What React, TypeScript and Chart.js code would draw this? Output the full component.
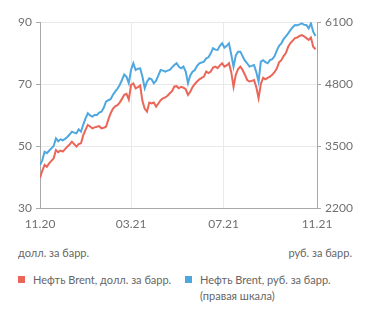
import React, { useEffect, useRef } from "react";
import { Chart, registerables } from "chart.js";

Chart.register(...registerables);

// day offsets from 01.11.2020
const days = [
  0, 3, 6, 9, 12, 15, 18, 21, 24, 27, 30, 33, 36, 39, 42, 45, 48, 51, 54, 57,
  60, 63, 66, 69, 72, 75, 78, 81, 84, 87, 90, 93, 96, 99, 102, 105, 108, 111, 114, 117,
  120, 123, 126, 129, 132, 135, 138, 141, 144, 147, 150, 153, 156, 159, 162, 165, 168, 171, 174, 177,
  180, 183, 186, 189, 192, 195, 198, 201, 204, 207, 210, 213, 216, 219, 222, 225, 228, 231, 234, 237,
  240, 243, 246, 249, 252, 255, 258, 261, 264, 267, 270, 273, 276, 279, 282, 285, 288, 291, 294, 297,
  300, 303, 306, 309, 312, 315, 318, 321, 324, 327, 330, 333, 336, 339, 342, 345, 348, 351, 354, 357,
  360, 363,
];

const brentUsd = [
  39.7, 42.0, 43.9, 43.3, 44.4, 45.2, 46.0, 48.7, 48.0, 48.5, 48.2, 49.0, 49.8, 50.5, 51.4, 50.6, 49.8, 50.6, 50.9, 53.5,
  55.2, 56.8, 56.3, 55.7, 56.0, 56.2, 56.4, 55.7, 55.9, 56.2, 58.5, 60.5, 62.0, 62.8, 63.2, 64.0, 65.2, 66.5, 66.8, 65.0,
  69.7, 70.2, 68.6, 69.0, 69.5, 64.5, 62.0, 61.1, 64.0, 63.7, 64.0, 62.7, 63.7, 64.8, 65.4, 65.7, 66.2, 67.0, 67.7, 69.2,
  69.3, 68.6, 69.1, 68.8, 68.3, 66.5, 67.5, 69.0, 70.0, 70.8, 71.5, 72.0, 72.4, 74.0, 73.5, 74.0, 75.3, 75.6, 75.1, 76.0,
  76.7, 75.6, 76.0, 76.7, 73.8, 69.1, 73.0, 74.8, 75.6, 74.5, 73.0, 71.3, 70.8, 71.0, 71.3, 69.0, 65.4, 70.0, 72.0, 71.5,
  72.0, 72.4, 73.0, 73.8, 75.0, 77.0, 77.7, 79.0, 80.0, 82.0, 83.2, 84.0, 84.8, 85.0, 85.5, 85.8, 85.4, 84.8, 84.2, 85.0,
  82.0, 81.2,
];

const brentRub = [
  3100, 3200, 3380, 3350, 3400, 3450, 3500, 3661, 3600, 3640, 3620, 3650, 3690, 3740, 3800, 3780, 3766, 3850, 3800, 3950,
  4080, 4186, 4140, 4116, 4150, 4150, 4200, 4220, 4300, 4429, 4460, 4480, 4570, 4640, 4700, 4779, 4884, 5000, 4950, 4815,
  5100, 5234, 5094, 5120, 5129, 4950, 4710, 4849, 4919, 4900, 4815, 4870, 4980, 5094, 5080, 5059, 5080, 5094, 5150, 5199,
  5234, 5160, 5129, 5164, 5059, 4815, 4980, 5059, 5094, 5180, 5234, 5250, 5268, 5338, 5360, 5443, 5550, 5520, 5513, 5600,
  5653, 5560, 5600, 5653, 5420, 5163, 5400, 5478, 5478, 5380, 5290, 5234, 5164, 5180, 5199, 5050, 4849, 5268, 5300, 5260,
  5234, 5300, 5320, 5380, 5500, 5600, 5653, 5740, 5800, 5862, 5930, 5990, 6037, 6030, 6050, 6073, 6040, 6037, 5967, 6073,
  5897, 5806,
];

const xTickDays = [0, 120, 242, 365];
const xTickLabels = ["11.20", "03.21", "07.21", "11.21"];
const leftTicks = [30, 50, 70, 90];
const rightTicks = [2200, 3500, 4800, 6100];

const RED = "#EB6659";
const BLUE = "#4FA7E0";
const FONT = "Lato";
const TICK_COLOR = "#707070";

export default function App() {
  const ref = useRef<HTMLCanvasElement | null>(null);

  useEffect(() => {
    if (!ref.current) return;
    const chart = new Chart(ref.current, {
      type: "line",
      data: {
        datasets: [
          {
            label: "Нефть Brent, долл. за барр.",
            data: days.map((d, i) => ({ x: d, y: brentUsd[i] })),
            borderColor: RED,
            borderWidth: 2,
            pointRadius: 0,
            tension: 0,
            yAxisID: "y",
          },
          {
            label: "Нефть Brent, руб. за барр. (правая шкала)",
            data: days.map((d, i) => ({ x: d, y: brentRub[i] })),
            borderColor: BLUE,
            borderWidth: 2,
            pointRadius: 0,
            tension: 0,
            yAxisID: "y1",
          },
        ],
      },
      options: {
        responsive: false,
        animation: false,
        layout: { padding: { top: 22, left: 0, right: 0, bottom: 0 } },
        plugins: { legend: { display: false }, tooltip: { enabled: false } },
        scales: {
          x: {
            type: "linear",
            min: 0,
            max: 365,
            afterBuildTicks: (s: any) => {
              s.ticks = xTickDays.map((v) => ({ value: v }));
            },
            afterFit: (s: any) => {
              s.height = 32;
            },
            ticks: {
              callback: (v: any) => {
                const i = xTickDays.indexOf(Number(v));
                return i >= 0 ? xTickLabels[i] : "";
              },
              color: TICK_COLOR,
              font: { family: FONT, size: 12 },
              padding: 9,
              maxRotation: 0,
              autoSkip: false,
            },
            grid: { color: "#e9e9e9", drawTicks: false, lineWidth: 1 },
            border: { color: "#a8a8a8", width: 1 },
          },
          y: {
            position: "left",
            min: 30,
            max: 90,
            afterBuildTicks: (s: any) => {
              s.ticks = leftTicks.map((v) => ({ value: v }));
            },
            afterFit: (s: any) => {
              s.width = 40;
            },
            ticks: {
              callback: (v: any) => String(v),
              color: TICK_COLOR,
              font: { family: FONT, size: 12 },
              padding: 4,
            },
            grid: { color: "#e9e9e9", tickColor: "#a8a8a8", tickLength: 4 },
            border: { color: "#a8a8a8", width: 1 },
          },
          y1: {
            position: "right",
            min: 2200,
            max: 6100,
            afterBuildTicks: (s: any) => {
              s.ticks = rightTicks.map((v) => ({ value: v }));
            },
            afterFit: (s: any) => {
              s.width = 54;
            },
            ticks: {
              callback: (v: any) => String(v),
              color: TICK_COLOR,
              font: { family: FONT, size: 12 },
              padding: 4,
            },
            grid: { drawOnChartArea: false, tickColor: "#a8a8a8", tickLength: 4 },
            border: { color: "#a8a8a8", width: 1 },
          },
        },
      },
    } as any);
    return () => chart.destroy();
  }, []);

  const textStyle: React.CSSProperties = {
    position: "absolute",
    fontFamily: FONT,
    fontSize: 11,
    color: "#666",
    lineHeight: "16px",
    whiteSpace: "nowrap",
  };

  return (
    <div style={{ position: "absolute", left: 0, top: 0, width: 371, height: 315, background: "#fff" }}>
      <canvas ref={ref} width={371} height={240} style={{ display: "block" }} />
      <div style={{ ...textStyle, left: 18, top: 245 }}>долл. за барр.</div>
      <div style={{ ...textStyle, right: 19, top: 245 }}>руб. за барр.</div>
      <div style={{ position: "absolute", left: 18, top: 276, width: 7, height: 7, background: RED }} />
      <div style={{ ...textStyle, left: 33, top: 272 }}>Нефть Brent, долл. за барр.</div>
      <div style={{ position: "absolute", left: 185, top: 276, width: 7, height: 7, background: BLUE }} />
      <div style={{ ...textStyle, left: 200, top: 272 }}>
        Нефть Brent, руб. за барр.
        <br />
        (правая шкала)
      </div>
    </div>
  );
}
